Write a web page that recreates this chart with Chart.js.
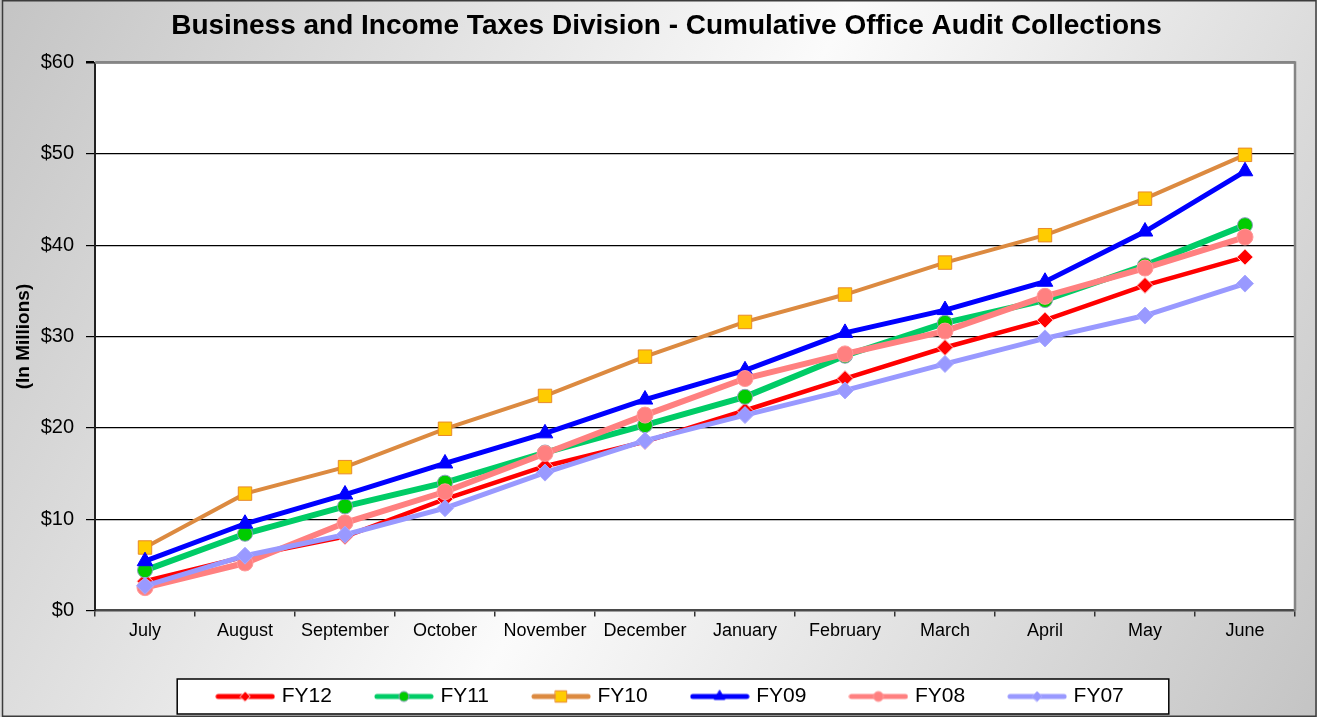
<!DOCTYPE html>
<html>
<head>
<meta charset="utf-8">
<title>Cumulative Office Audit Collections</title>
<script src="https://cdn.jsdelivr.net/npm/chart.js@4/dist/chart.umd.min.js"></script>
<style>
    html, body { margin: 0; padding: 0; background: #ffffff; }
    #wrap { width: 1317px; height: 717px; position: relative; }
    canvas { display: block; }
</style>
</head>
<body>
<div id="wrap"><canvas id="auditChart" width="1317" height="717"></canvas></div>
<script>
// Months of the fiscal year (July - June)
const months = ['July', 'August', 'September', 'October', 'November', 'December',
    'January', 'February', 'March', 'April', 'May', 'June'];

// Cumulative collections, in millions of dollars
const fy12 = [3.2, 5.9, 8.1, 12.2, 15.8, 18.5, 21.9, 25.4, 28.8, 31.8, 35.6, 38.7];
const fy11 = [4.4, 8.4, 11.4, 14.0, 17.3, 20.3, 23.4, 27.9, 31.5, 34.0, 37.8, 42.2];
const fy10 = [6.9, 12.8, 15.7, 19.9, 23.5, 27.8, 31.6, 34.6, 38.1, 41.1, 45.1, 49.9];
const fy09 = [5.4, 9.5, 12.7, 16.1, 19.4, 23.1, 26.3, 30.4, 32.9, 36.0, 41.5, 48.1];
const fy08 = [2.5, 5.2, 9.6, 13.0, 17.2, 21.4, 25.4, 28.1, 30.6, 34.4, 37.5, 40.9];
const fy07 = [2.7, 6.0, 8.3, 11.2, 15.1, 18.6, 21.4, 24.1, 27.0, 29.8, 32.3, 35.8];

const yTicks = [0, 10, 20, 30, 40, 50, 60];

const FONT = '"Liberation Sans", Arial, sans-serif';

// Series look (line colour, marker fill, marker border, marker style, sizes)
const series = [
    { label: 'FY12', data: fy12, line: '#ff0000', fill: '#ff0000', edge: '#ffc8c8', style: 'rectRot', r: 8, w: 4.5, lr: 5 },
    { label: 'FY11', data: fy11, line: '#00cc66', fill: '#00cc00', edge: '#8a9fbf', style: 'circle', r: 7.5, w: 6, lr: 5 },
    { label: 'FY10', data: fy10, line: '#dc8a40', fill: '#ffcc00', edge: '#e8892a', style: 'rect', r: 9.5, w: 4, lr: 8 },
    { label: 'FY09', data: fy09, line: '#0000ff', fill: '#0000ff', edge: '#0000ff', style: 'triangle', r: 9, w: 5, lr: 6 },
    { label: 'FY08', data: fy08, line: '#ff8080', fill: '#ff8080', edge: '#ff9a9a', style: 'circle', r: 8, w: 6, lr: 5 },
    { label: 'FY07', data: fy07, line: '#9999ff', fill: '#9999ff', edge: '#aaaaff', style: 'rectRot', r: 8.5, w: 5, lr: 5 }
];

// Legend glyph: a short line with the marker in the middle
function legendGlyph(s) {
    const c = document.createElement('canvas');
    c.width = 60;
    c.height = 20;
    const g = c.getContext('2d');
    g.strokeStyle = s.line;
    g.lineWidth = 5;
    g.lineCap = 'round';
    g.beginPath();
    g.moveTo(3, 10);
    g.lineTo(57, 10);
    g.stroke();
    g.fillStyle = s.fill;
    g.strokeStyle = s.edge;
    g.lineWidth = 1;
    Chart.helpers.drawPoint(g, { pointStyle: s.style, radius: s.lr, rotation: 0, borderWidth: 1 }, 30, 10);
    return c;
}

const LEGEND_SHIFT = 24;
const TITLE_SHIFT = 19;

const frame = {
    id: 'frame',
    afterLayout(chart) {
        const lg = chart.legend;
        lg.left += LEGEND_SHIFT;
        lg.right += LEGEND_SHIFT;
        (lg.legendHitBoxes || []).forEach(h => { h.left += LEGEND_SHIFT; });
        const tb = chart.titleBlock;
        if (tb) {
            tb.left += TITLE_SHIFT;
            tb.right += TITLE_SHIFT;
        }
    },
    beforeDraw(chart) {
        const { ctx, width, height, chartArea } = chart;
        ctx.save();
        // gray - white - gray diagonal backdrop
        const grad = ctx.createLinearGradient(0, 0, width, height);
        grad.addColorStop(0, '#c4c4c4');
        grad.addColorStop(0.5, '#fbfbfb');
        grad.addColorStop(1, '#c4c4c4');
        ctx.fillStyle = grad;
        ctx.fillRect(0, 0, width, height);
        ctx.strokeStyle = '#3c3c3c';
        ctx.lineWidth = 1.5;
        ctx.strokeRect(2.5, 0.75, width - 3.5, height - 1.5);

        // white plot area
        ctx.fillStyle = '#ffffff';
        ctx.fillRect(chartArea.left, chartArea.top, chartArea.right - chartArea.left, chartArea.bottom - chartArea.top);

        // legend frame
        const hb = chart.legend.legendHitBoxes;
        if (hb && hb.length) {
            const first = hb[0];
            const last = hb[hb.length - 1];
            const cy = first.top + first.height / 2;
            const x0 = first.left - 42;
            const x1 = last.left + last.width + 45;
            ctx.fillStyle = '#ffffff';
            ctx.fillRect(x0, cy - 17.5, x1 - x0, 35);
            ctx.strokeStyle = '#000000';
            ctx.lineWidth = 1.5;
            ctx.strokeRect(x0, cy - 17.5, x1 - x0, 35);
        }
        ctx.restore();
    },
    beforeDatasetsDraw(chart) {
        const { ctx, chartArea } = chart;
        ctx.save();
        ctx.strokeStyle = '#858585';
        ctx.lineWidth = 2.5;
        ctx.beginPath();
        ctx.moveTo(chartArea.left, chartArea.top);
        ctx.lineTo(chartArea.right, chartArea.top);
        ctx.lineTo(chartArea.right, chartArea.bottom);
        ctx.stroke();
        ctx.restore();
    }
};

const datasets = series.map((s, i) => ({
    label: s.label,
    data: s.data,
    borderColor: s.line,
    backgroundColor: s.fill,
    borderWidth: s.w,
    pointStyle: s.style,
    pointRadius: s.r,
    pointHoverRadius: s.r,
    pointBackgroundColor: s.fill,
    pointBorderColor: s.edge,
    pointBorderWidth: 1,
    tension: 0,
    fill: false,
    order: series.length - i   // later fiscal years are drawn on top
}));

new Chart(document.getElementById('auditChart'), {
    type: 'line',
    data: { labels: months, datasets: datasets },
    plugins: [frame],
    options: {
        responsive: false,
        animation: false,
        devicePixelRatio: 1,
        layout: { padding: { left: 0, right: 22, top: 0, bottom: 0 } },
        plugins: {
            title: {
                display: true,
                text: 'Business and Income Taxes Division - Cumulative Office Audit Collections',
                color: '#000000',
                font: { family: FONT, size: 28, weight: 'bold' },
                padding: { top: 9, bottom: 20 }
            },
            legend: {
                position: 'bottom',
                labels: {
                    color: '#000000',
                    font: { family: FONT, size: 21 },
                    usePointStyle: true,
                    pointStyleWidth: 52,
                    padding: 46,
                    generateLabels: () => series.map((s, i) => ({
                        text: s.label,
                        pointStyle: legendGlyph(s),
                        fillStyle: s.fill,
                        strokeStyle: s.line,
                        lineWidth: 0,
                        fontColor: '#000000',
                        hidden: false,
                        datasetIndex: i
                    }))
                }
            },
            tooltip: { enabled: false }
        },
        scales: {
            x: {
                offset: true,
                afterFit: (scale) => { scale.height = 29.5; },
                grid: {
                    display: true,
                    offset: true,
                    drawOnChartArea: false,
                    drawTicks: true,
                    tickLength: 6,
                    color: '#333333',
                    lineWidth: 1.5
                },
                border: { display: true, color: '#4a4a4a', width: 2.5 },
                ticks: {
                    color: '#000000',
                    font: { family: FONT, size: 18 },
                    padding: 4,
                    maxRotation: 0,
                    autoSkip: false
                }
            },
            y: {
                min: yTicks[0],
                max: yTicks[yTicks.length - 1],
                afterFit: (scale) => { scale.width = 95; },
                afterBuildTicks: (scale) => { scale.ticks = yTicks.map(v => ({ value: v })); },
                title: {
                    display: true,
                    text: '(In Millions)',
                    color: '#000000',
                    font: { family: FONT, size: 19, weight: 'bold' },
                    padding: { top: 12, bottom: 0 }
                },
                grid: {
                    drawTicks: true,
                    tickLength: 9,
                    tickColor: '#000000',
                    color: (c) => {
                        const v = c.tick ? c.tick.value : null;
                        if (v === 60) return '#858585';
                        if (v === 0) return 'rgba(0,0,0,0)';
                        return '#000000';
                    },
                    lineWidth: (c) => (c.tick && c.tick.value === 60 ? 2.5 : 1.2)
                },
                border: { display: true, color: '#222222', width: 2 },
                ticks: {
                    color: '#000000',
                    font: { family: FONT, size: 20 },
                    padding: 12,
                    callback: (value) => '$' + value
                }
            }
        }
    }
});
</script>
</body>
</html>
